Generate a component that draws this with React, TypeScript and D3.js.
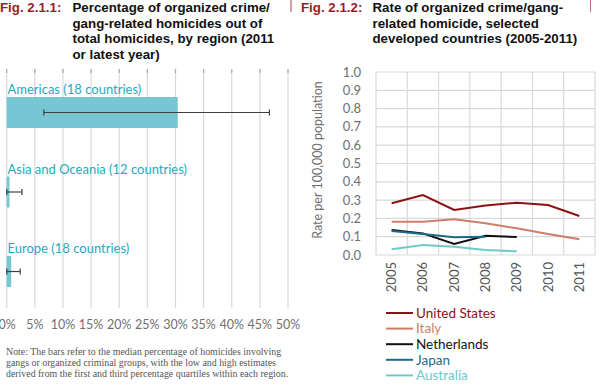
import React from "react";
import * as d3 from "d3";

const regions = ["Americas (18 countries)", "Asia and Oceania (12 countries)", "Europe (18 countries)"];
const medians = [0.304, 0.005, 0.008];
const lows = [0.066, 0.0, 0.0];
const highs = [0.467, 0.027, 0.024];
const pctTicks = [0, 0.05, 0.1, 0.15, 0.2, 0.25, 0.3, 0.35, 0.4, 0.45, 0.5];

const years = ["2005", "2006", "2007", "2008", "2009", "2010", "2011"];
const usValues = [0.283, 0.328, 0.246, 0.27, 0.286, 0.273, 0.213];
const italyValues = [0.182, 0.182, 0.195, 0.173, 0.146, 0.115, 0.086];
const netherlandsValues = [0.137, 0.118, 0.06, 0.105, 0.098];
const japanValues = [0.131, 0.115, 0.097, 0.1];
const australiaValues = [0.031, 0.055, 0.045, 0.027, 0.02];
const rateTicks = [0, 0.1, 0.2, 0.3, 0.4, 0.5, 0.6, 0.7, 0.8, 0.9, 1.0];

const seriesNames = ["United States", "Italy", "Netherlands", "Japan", "Australia"];
const seriesColors = ["#8b1214", "#cf7d68", "#111111", "#1b6b87", "#6ec9c9"];
const seriesValues = [usValues, italyValues, netherlandsValues, japanValues, australiaValues];

const calibri = "Lato, 'Open Sans', sans-serif";
const arial = "'Liberation Sans', Arial, sans-serif";

export default function App() {
  const W = 600, H = 392;
  const x1 = d3.scaleLinear().domain([0, 0.5]).range([6.7, 288]);
  const y1 = d3.scalePoint<string>().domain(regions).range([112.5, 271.5]);
  const barH = 31;
  const x2 = d3.scaleBand<string>().domain(years).range([376, 595]);
  const y2 = d3.scaleLinear().domain([0, 1]).range([255, 72]);
  const line = d3
    .line<number>()
    .x((_, i) => (x2(years[i]) as number) + x2.bandwidth() / 2)
    .y((d) => y2(d));

  const titleRed = "#9c1b1f";
  const titleLeft = ["Percentage of organized crime/", "gang-related homicides out of", "total homicides, by region (2011", "or latest year)"];
  const titleRight = ["Rate of organized crime/gang-", "related homicide, selected", "developed countries (2005-2011)"];
  const noteLines = [
    "Note: The bars refer to the median percentage of homicides involving",
    "gangs or organized criminal groups, with the low and high estimates",
    "derived from the first and third percentage quartiles within each region.",
  ];

  return (
    <svg width={W} height={H} style={{ position: "absolute", left: 0, top: 0, background: "#fff" }}>
      <line x1={291} x2={291} y1={0} y2={12} stroke="#b0404a" strokeWidth={1} />
      <line x1={590.5} x2={590.5} y1={0} y2={12} stroke="#c0707a" strokeWidth={1} />

      <g fontFamily={arial} fontWeight="bold" fontSize={13.3}>
        <text x={0} y={12} fill={titleRed}>Fig. 2.1.1:</text>
        {titleLeft.map((t, i) => (
          <text key={t} x={72.5} y={12 + i * 15.5} fill="#111">{t}</text>
        ))}
        <text x={301} y={12} fill={titleRed}>Fig. 2.1.2:</text>
        {titleRight.map((t, i) => (
          <text key={t} x={372.5} y={12 + i * 15.5} fill="#111">{t}</text>
        ))}
      </g>

      {pctTicks.map((t) => (
        <g key={t}>
          <line x1={x1(t)} x2={x1(t)} y1={69} y2={308} stroke="#d9d9d9" strokeWidth={1.2} />
          <line x1={x1(t)} x2={x1(t)} y1={69} y2={73} stroke="#aaa" strokeWidth={1.2} />
          <text x={Math.max(x1(t), 7.2)} y={329} textAnchor="middle" fontFamily={calibri} fontSize={12.5} fill="#6f6f6f">
            {`${Math.round(t * 100)}%`}
          </text>
        </g>
      ))}
      {regions.map((r, i) => {
        const cy = y1(r) as number;
        return (
          <g key={r}>
            <text x={7.5} y={cy - barH / 2 - 3} fontFamily={calibri} fontSize={13} fill="#27a9bf">{r}</text>
            <rect x={x1(0)} y={cy - barH / 2} width={x1(medians[i]) - x1(0)} height={barH} fill="#77c6d3" />
            <line x1={x1(lows[i])} x2={x1(highs[i])} y1={cy} y2={cy} stroke="#404040" strokeWidth={1.2} />
            <line x1={x1(lows[i])} x2={x1(lows[i])} y1={cy - 3} y2={cy + 3} stroke="#404040" strokeWidth={1.2} />
            <line x1={x1(highs[i])} x2={x1(highs[i])} y1={cy - 3} y2={cy + 3} stroke="#404040" strokeWidth={1.2} />
          </g>
        );
      })}

      <g fontFamily="'Liberation Serif', 'DejaVu Serif', serif" fontSize={9.9} fill="#555">
        {noteLines.map((t, i) => (
          <text key={i} x={6} y={355 + i * 11}>{t}</text>
        ))}
      </g>

      {rateTicks.map((t) => (
        <g key={t}>
          <line x1={376} x2={595} y1={y2(t)} y2={y2(t)} stroke="#d9d9d9" strokeWidth={1.2} />
          <text x={361} y={y2(t) + 4.5} textAnchor="end" fontFamily={calibri} fontSize={13} fill="#6f6f6f">
            {t.toFixed(1)}
          </text>
        </g>
      ))}
      {d3.range(years.length + 1).map((i) => {
        const xx = 376 + i * x2.step();
        return <line key={i} x1={xx} x2={xx} y1={72} y2={255} stroke="#d9d9d9" strokeWidth={1.2} />;
      })}
      {years.map((yr) => {
        const cx = (x2(yr) as number) + x2.bandwidth() / 2;
        return (
          <text key={yr} transform={`translate(${cx + 4.5},262) rotate(-90)`} textAnchor="end" fontFamily={calibri} fontSize={13} fill="#555">
            {yr}
          </text>
        );
      })}
      <text transform="translate(322,160) rotate(-90)" textAnchor="middle" fontFamily={calibri} fontSize={12.5} fill="#6f6f6f">
        Rate per 100,000 population
      </text>
      {seriesValues.map((vals, i) => (
        <path key={seriesNames[i]} d={line(vals) || ""} fill="none" stroke={seriesColors[i]} strokeWidth={2} />
      ))}

      {seriesNames.map((n, i) => (
        <g key={n}>
          <line x1={386} x2={413} y1={313 + i * 15.6} y2={313 + i * 15.6} stroke={seriesColors[i]} strokeWidth={2} />
          <text x={416} y={313 + i * 15.6 + 4.8} fontFamily={calibri} fontSize={13.5} fill={seriesColors[i]}>{n}</text>
        </g>
      ))}
    </svg>
  );
}
